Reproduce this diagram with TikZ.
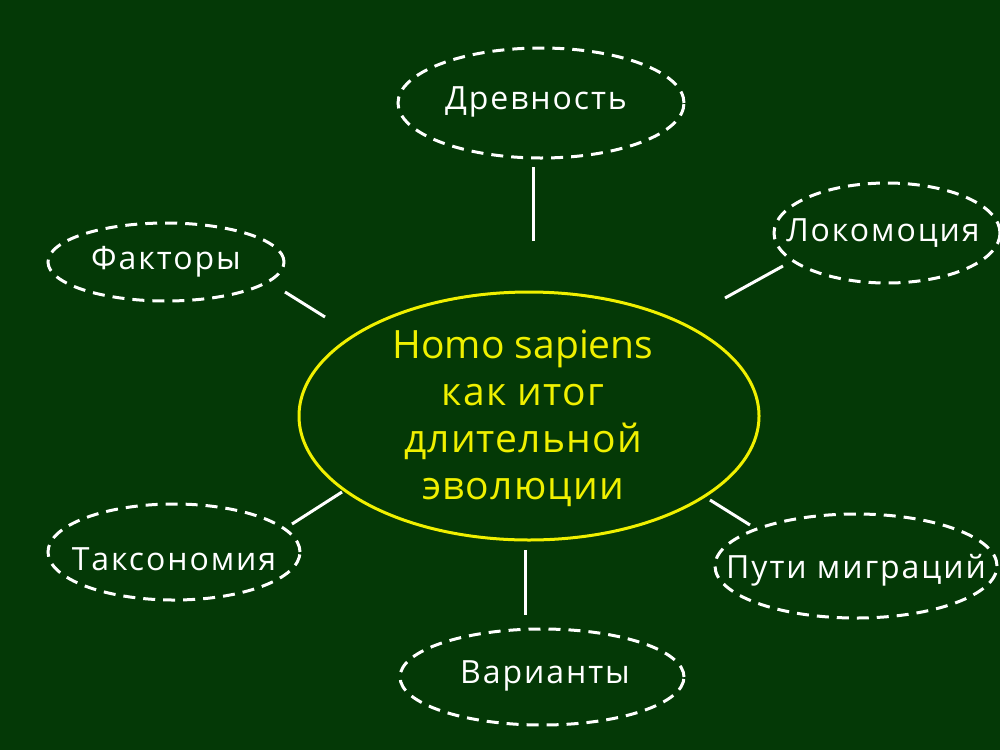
\documentclass[tikz,border=0pt]{standalone}
\usepackage{fontspec}
\setmainfont{Open Sans}
\newfontfamily\spacedfont[LetterSpace=6]{Open Sans}
\newfontfamily\hubfont[LetterSpace=3]{Open Sans}
\usetikzlibrary{shapes.geometric}
\definecolor{bg}{RGB}{4,57,6}
\definecolor{ylw}{RGB}{240,240,0}
\begin{document}
\begin{tikzpicture}[x=1pt,y=-1pt,
  sat/.style={ellipse,draw=white,line width=3pt,dash pattern=on 12pt off 8pt,inner sep=0pt},
  lbl/.style={text=white,inner sep=0pt,font=\spacedfont\fontsize{32}{38}\selectfont},
  hub/.style={ellipse,draw=ylw,line width=3pt,inner sep=0pt},
  hubtext/.style={text=ylw,align=center,inner sep=0pt,font=\fontsize{39}{47}\selectfont},
  link/.style={draw=white,line width=3pt}]
\fill[bg] (0,0) rectangle (1000,750);
\useasboundingbox (0,0) rectangle (1000,750);
\node[hub,minimum width=460pt,minimum height=248pt] (c) at (529,416) {};
\node[hubtext] (ct) at (523,418) {Homo sapiens\\{\hubfont как итог}\\{\hubfont длительной}\\{\hubfont эволюции}};
\node[sat,minimum width=286pt,minimum height=110pt] (d) at (541,103) {};
\node[lbl] (dt) at (536,102) {Древность};
\node[sat,minimum width=226pt,minimum height=100pt] (l) at (887,233) {};
\node[lbl] (lt) at (883,233) {Локомоция};
\node[sat,minimum width=236pt,minimum height=78pt] (f) at (166,262) {};
\node[lbl] (ft) at (166,262) {Факторы};
\node[sat,minimum width=252pt,minimum height=96pt] (t) at (174,552) {};
\node[lbl] (tt) at (174,559) {Таксономия};
\node[sat,minimum width=282pt,minimum height=104pt] (m) at (856,566) {};
\node[lbl] (mt) at (856,570) {Пути миграций};
\node[sat,minimum width=284pt,minimum height=96pt] (v) at (542,677) {};
\node[lbl] (vt) at (545,676) {Варианты};
\coordinate (c1) at (533,241); \coordinate (d1) at (533,167);
\coordinate (c2) at (725,298); \coordinate (l1) at (783,266);
\coordinate (c3) at (325,317); \coordinate (f1) at (285,292);
\coordinate (c4) at (342,492); \coordinate (t1) at (292,524);
\coordinate (c5) at (525,550); \coordinate (v1) at (525,615);
\coordinate (c6) at (710,500); \coordinate (m1) at (750,525);
\draw[link] (c1) -- (d1);
\draw[link] (c2) -- (l1);
\draw[link] (c3) -- (f1);
\draw[link] (c4) -- (t1);
\draw[link] (c5) -- (v1);
\draw[link] (c6) -- (m1);
\end{tikzpicture}
\end{document}
